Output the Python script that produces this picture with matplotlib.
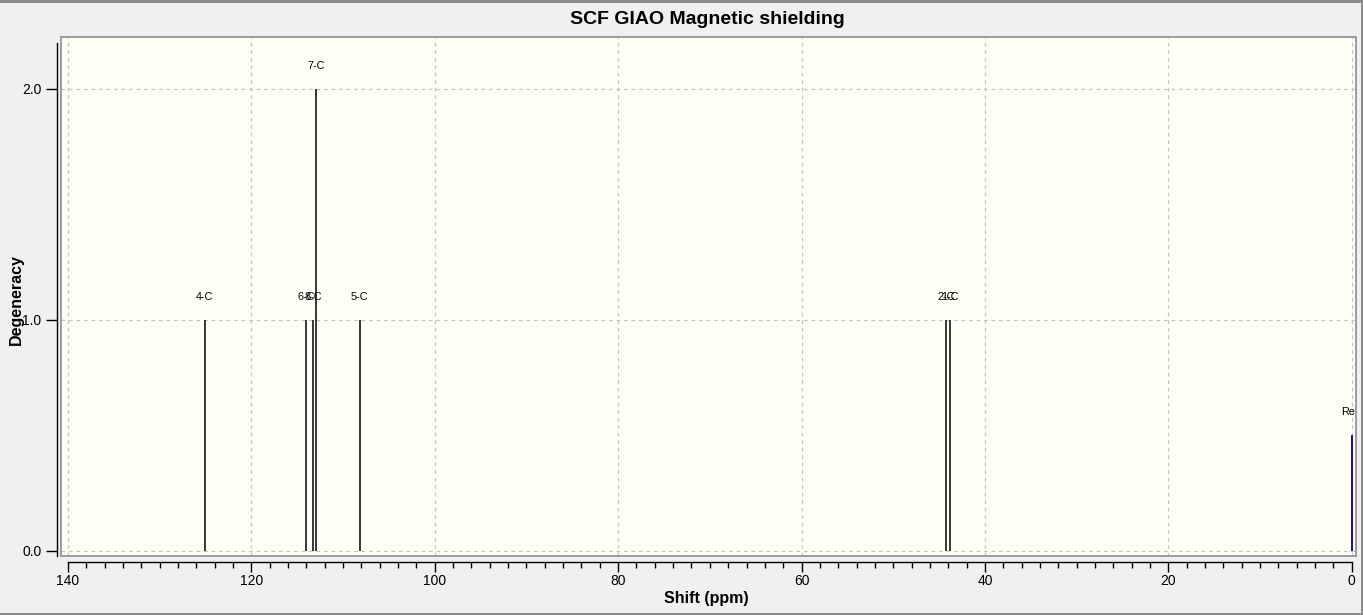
import matplotlib.pyplot as plt
from matplotlib.patches import Rectangle
from matplotlib.ticker import MultipleLocator

# peak data
labels = ['4-C', '6-C', '8-C', '7-C', '5-C', '2-C', '1-C']
shifts = [125.1, 114.05, 113.3, 112.9, 108.2, 44.2, 43.8]
degeneracy = [1, 1, 1, 2, 1, 1, 1]
ref_label = 'Re'
ref_shift = 0.0
ref_height = 0.5

plt.rcParams['font.family'] = ['Liberation Sans', 'DejaVu Sans']

W, H = 1363, 615
fig = plt.figure(figsize=(W / 100, H / 100), dpi=100, facecolor='#f0f0f0')

# plot area in pixels
left, right, top, bottom = 61, 1356, 37, 556
ax = fig.add_axes([left / W, 1 - bottom / H, (right - left) / W, (bottom - top) / H])
ax.set_facecolor('#fffff6')

ax.set_xlim(140.76, -0.47)
ax.set_ylim(-0.022, 2.225)

# gray frame around the plot area
ax.add_patch(Rectangle((0, 0), 1, 1, transform=ax.transAxes, fill=False,
                       edgecolor='#8c8c8c', linewidth=1.2, clip_on=False, zorder=5))

for side in ['top', 'right']:
    ax.spines[side].set_visible(False)
ax.spines['bottom'].set_position(('outward', 4))
ax.spines['left'].set_position(('outward', 3))
ax.spines['bottom'].set_bounds(0, 140)
ax.spines['left'].set_bounds(-0.02, 2.2)
for side in ['bottom', 'left']:
    ax.spines[side].set_linewidth(1.0)
    ax.spines[side].set_color('black')

ax.xaxis.set_major_locator(MultipleLocator(20))
ax.xaxis.set_minor_locator(MultipleLocator(2))
ax.yaxis.set_major_locator(MultipleLocator(1))
ax.tick_params(axis='x', which='major', length=7, width=1, labelsize=10, pad=2)
ax.tick_params(axis='x', which='minor', length=4, width=1)
ax.tick_params(axis='y', which='major', length=8, width=1, labelsize=10, pad=3)
ax.yaxis.set_major_formatter(plt.FuncFormatter(lambda v, p: f'{v:.1f}'))

ax.grid(True, which='major', linestyle=(0, (3, 3)), color='#c4c4c4', linewidth=0.9)
ax.set_axisbelow(True)

# peaks
ax.vlines(shifts, 0, degeneracy, colors='black', linewidth=1.1, zorder=3)
for lab, s, d in zip(labels, shifts, degeneracy):
    ax.text(s, d + 0.1, lab, ha='center', va='center', fontsize=7.8, zorder=4)

ax.vlines([ref_shift], 0, [ref_height], colors='#000080', linewidth=1.3, zorder=3)
ax.text(ref_shift + 0.35, ref_height + 0.1, ref_label, ha='center', va='center',
        fontsize=7.8, zorder=4, clip_on=True)

fig.text(707 / W, 1 - 19 / H, 'SCF GIAO Magnetic shielding', ha='center', va='center',
         fontsize=14, fontweight='bold')
fig.text(706 / W, 1 - 599 / H, 'Shift (ppm)', ha='center', va='center',
         fontsize=11.5, fontweight='bold')
fig.text(16 / W, 1 - 300 / H, 'Degeneracy', ha='center', va='center',
         fontsize=11.5, fontweight='bold', rotation=90)

# window frame
fig.patches.append(Rectangle((0, 1 - 3 / H), 1, 3 / H, transform=fig.transFigure,
                             facecolor='#8a8a8a', edgecolor='none'))
fig.patches.append(Rectangle((0, 0), 1, 2 / H, transform=fig.transFigure,
                             facecolor='#8a8a8a', edgecolor='none'))
fig.patches.append(Rectangle((1 - 2 / W, 0), 2 / W, 1, transform=fig.transFigure,
                             facecolor='#8a8a8a', edgecolor='none'))

fig.savefig('out.png', dpi=100, facecolor=fig.get_facecolor())
